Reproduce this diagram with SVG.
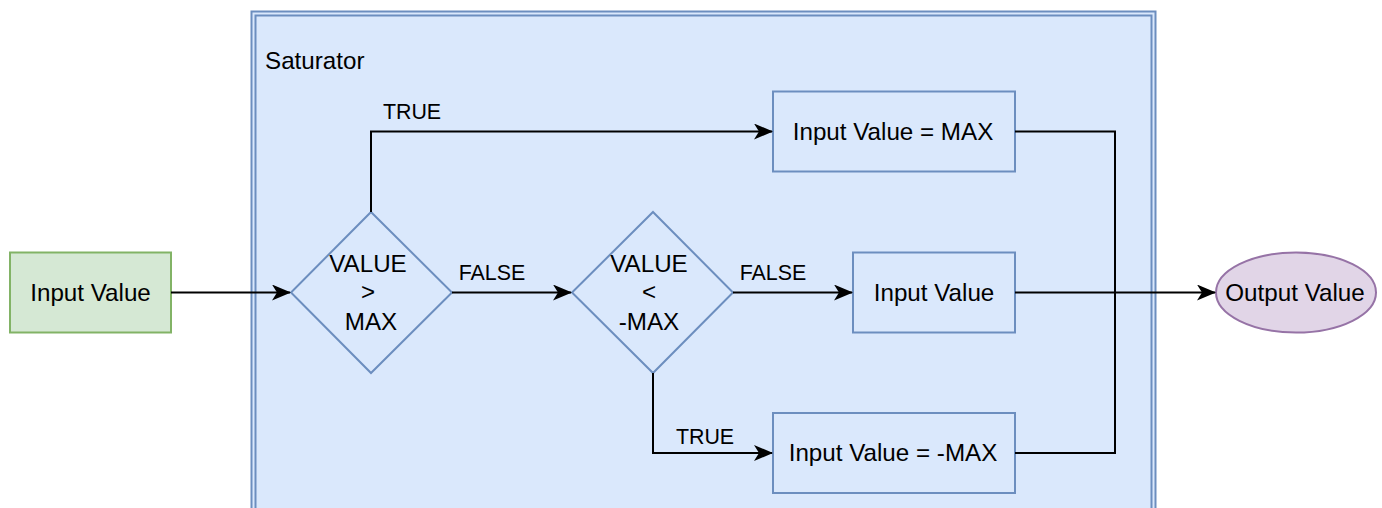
<svg xmlns="http://www.w3.org/2000/svg" width="1382" height="508" viewBox="0 0 1382 508">
<defs>
<marker id="arr" markerUnits="userSpaceOnUse" markerWidth="20" markerHeight="16" viewBox="0 0 20 16" refX="18" refY="8" orient="auto">
<path d="M0,0 L19,8 L0,16 L5,8 Z" fill="#000"/>
</marker>
<style>
.t{font-family:"Liberation Sans",Arial,sans-serif;font-size:24.2px;fill:#000}
.l{font-family:"Liberation Sans",Arial,sans-serif;font-size:21.4px;fill:#000}
.bl{fill:#dae8fc;stroke:#6c8ebf;stroke-width:2}
.c{fill:none;stroke:#000;stroke-width:2}
</style>
</defs>
<rect width="1382" height="508" fill="#fff"/>
<g id="saturator">
<rect x="251.5" y="11.5" width="904" height="520" fill="#dae8fc" stroke="#6c8ebf" stroke-width="2"/>
<rect x="255.5" y="15.5" width="896" height="520" fill="none" stroke="#6c8ebf" stroke-width="2"/>
<text class="t" x="265" y="69">Saturator</text>
</g>
<g id="input">
<rect x="10" y="252.5" width="161" height="80" fill="#d5e8d4" stroke="#82b366" stroke-width="2"/>
<text class="t" x="90.5" y="300.5" text-anchor="middle">Input Value</text>
</g>
<g id="dec1">
<polygon class="bl" points="371,212 452,292.5 371,373 291,292.5"/>
<text class="t" text-anchor="middle"><tspan x="368" y="272">VALUE</tspan><tspan x="368" y="300">&gt;</tspan><tspan x="371" y="330">MAX</tspan></text>
</g>
<g id="dec2">
<polygon class="bl" points="653,212 733,292.5 653,373 572,292.5"/>
<text class="t" text-anchor="middle"><tspan x="649" y="272">VALUE</tspan><tspan x="649" y="300">&lt;</tspan><tspan x="649" y="330">-MAX</tspan></text>
</g>
<g id="setmax">
<rect class="bl" x="773" y="91.5" width="242" height="80"/>
<text class="t" x="893" y="139.5" text-anchor="middle">Input Value = MAX</text>
</g>
<g id="pass">
<rect class="bl" x="853" y="252.5" width="162" height="80"/>
<text class="t" x="934" y="300.5" text-anchor="middle">Input Value</text>
</g>
<g id="setmin">
<rect class="bl" x="773" y="413" width="242" height="80"/>
<text class="t" x="893" y="461" text-anchor="middle">Input Value = -MAX</text>
</g>
<g id="output">
<ellipse cx="1296" cy="292.5" rx="80" ry="40" fill="#e1d5e7" stroke="#9673a6" stroke-width="2"/>
<text class="t" x="1295" y="300.5" text-anchor="middle">Output Value</text>
</g>
<g id="connectors">
<path class="c" d="M171,292.5 H290" marker-end="url(#arr)"/>
<path class="c" d="M371,212 V131.5 H772" marker-end="url(#arr)"/>
<path class="c" d="M452,292.5 H571" marker-end="url(#arr)"/>
<path class="c" d="M733,292.5 H852" marker-end="url(#arr)"/>
<path class="c" d="M653,373 V453 H772" marker-end="url(#arr)"/>
<path class="c" d="M1015,131.5 H1115 V292.5"/>
<path class="c" d="M1015,453 H1115 V292.5"/>
<path class="c" d="M1015,292.5 H1215" marker-end="url(#arr)"/>
<text class="l" x="412" y="119" text-anchor="middle">TRUE</text>
<text class="l" x="492" y="280" text-anchor="middle">FALSE</text>
<text class="l" x="773" y="280" text-anchor="middle">FALSE</text>
<text class="l" x="705" y="444" text-anchor="middle">TRUE</text>
</g>
</svg>
